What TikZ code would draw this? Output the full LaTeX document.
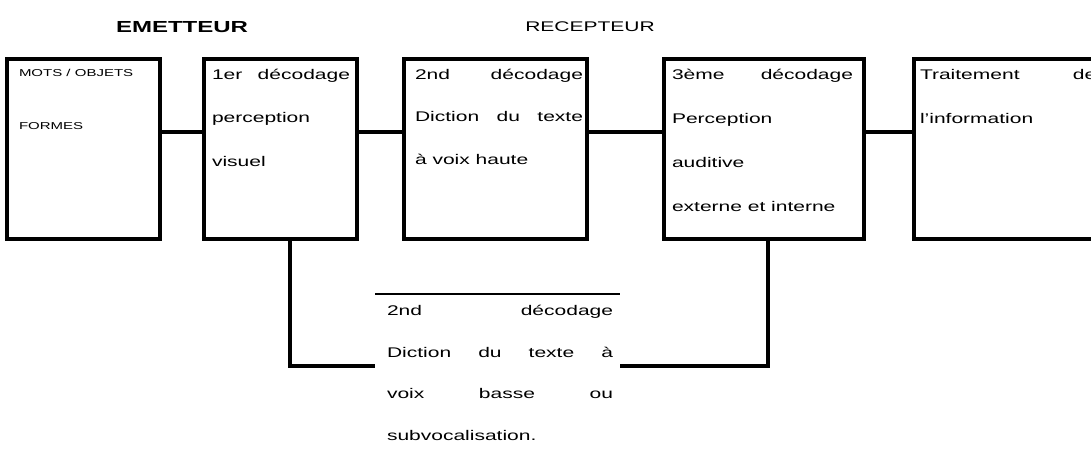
\documentclass[tikz,border=0pt]{standalone}
\usepackage{fontspec}
\setmainfont{Liberation Sans}
% widened paragraph: #1 = width before widening, #2 = lines
\newcommand{\wideblock}[2]{\scalebox{1.5}[1]{\parbox[t]{#1pt}{\hyphenpenalty=10000 #2}}}
\tikzset{
  stagebox/.style={draw, line width=4pt, minimum height=180.5pt, inner sep=0pt, outer sep=0pt},
  link/.style={line width=4pt},
  boxtext/.style={anchor=north west, inner sep=0pt, outer sep=0pt, font=\fontsize{14}{43.5}\selectfont},
  heading/.style={inner sep=0pt}
}
\begin{document}
\begin{tikzpicture}[x=1pt, y=-1pt]
\clip (0,0) rectangle (1091,471);
\useasboundingbox (0,0) rectangle (1091,471);

% headings
\node[heading, font=\bfseries\fontsize{16}{16}\selectfont] (h1) at (182,27) {\scalebox{1.5}[1]{EMETTEUR}};
\node[heading, font=\fontsize{14}{14}\selectfont] (h2) at (590,27) {\scalebox{1.5}[1]{RECEPTEUR}};

% stages
\node[stagebox, minimum width=153pt] (b1) at (83,148.75) {};
\node[stagebox, minimum width=153pt] (b2) at (280.5,148.75) {};
\node[stagebox, minimum width=183pt] (b3) at (495.5,148.75) {};
\node[stagebox, minimum width=200pt] (b4) at (764,148.75) {};
\node[stagebox, minimum width=196pt] (b5) at (1012,148.75) {};

% alternative path box (top rule only)
\node[inner sep=0pt, outer sep=0pt, minimum width=245pt, minimum height=144pt] (bot) at (497.5,366) {};
\draw[line width=2pt] (bot.north west) -- (bot.north east);

% stage texts
\node[boxtext, font=\fontsize{10}{53}\selectfont] (t1) at (19,69)
  {\wideblock{93}{\raggedright MOTS / OBJETS\\ FORMES}};
\node[boxtext] (t2) at (212,69)
  {\wideblock{92}{1er décodage\linebreak perception\newline visuel}};
\node[boxtext, font=\fontsize{14}{42.5}\selectfont] (t3) at (415,69)
  {\wideblock{112}{2nd décodage\linebreak Diction du texte\linebreak à voix haute}};
\node[boxtext, font=\fontsize{14}{44}\selectfont] (t4) at (672,69)
  {\wideblock{120.7}{3ème décodage\linebreak Perception\newline auditive\newline externe et interne}};
\node[boxtext, font=\fontsize{14}{44}\selectfont] (t5) at (920,69)
  {\wideblock{117.5}{Traitement de\linebreak l'information}};
\node[boxtext, font=\fontsize{14}{41.7}\selectfont] (tb) at (387,305)
  {\wideblock{150.7}{2nd décodage\linebreak Diction du texte à\linebreak voix basse ou\linebreak subvocalisation.}};

% connectors
\draw[link] ([yshift=16.75pt]b1.east) -- ([yshift=16.75pt]b2.west);
\draw[link] ([yshift=16.75pt]b2.east) -- ([yshift=16.75pt]b3.west);
\draw[link] ([yshift=16.75pt]b3.east) -- ([yshift=16.75pt]b4.west);
\draw[link] ([yshift=16.75pt]b4.east) -- ([yshift=16.75pt]b5.west);
\draw[link] ([xshift=9.5pt]b2.south) |- (bot.west);
\draw[link] ([xshift=4pt]b4.south) |- (bot.east);
\end{tikzpicture}
\end{document}
